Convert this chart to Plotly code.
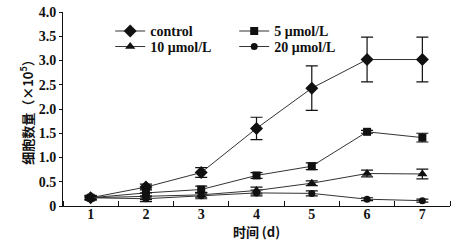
import plotly.graph_objects as go

days = [1, 2, 3, 4, 5, 6, 7]
x_ticklabels = ["1", "2", "3", "4", "5", "6", "7"]

control = [0.17, 0.39, 0.69, 1.60, 2.43, 3.02, 3.02]
control_err = [0.05, 0.06, 0.10, 0.23, 0.46, 0.46, 0.46]

c5 = [0.17, 0.27, 0.34, 0.63, 0.82, 1.53, 1.41]
c5_err = [0.04, 0.08, 0.07, 0.06, 0.07, 0.03, 0.09]

c10 = [0.17, 0.20, 0.23, 0.32, 0.47, 0.67, 0.66]
c10_err = [0.04, 0.07, 0.05, 0.07, 0.05, 0.07, 0.10]

c20 = [0.17, 0.15, 0.21, 0.27, 0.26, 0.14, 0.11]
c20_err = [0.03, 0.06, 0.06, 0.06, 0.05, 0.03, 0.03]

series = [
    ("control", control, control_err, "diamond", 10, "legend"),
    ("5 μmol/L", c5, c5_err, "square", 8, "legend"),
    ("10 μmol/L", c10, c10_err, "triangle-up", 9, "legend2"),
    ("20 μmol/L", c20, c20_err, "circle", 7, "legend2"),
]

fig = go.Figure()
for name, vals, err, sym, sz, lg in series:
    fig.add_trace(go.Scatter(
        x=days, y=vals, name=name, mode="lines+markers", legend=lg,
        line=dict(color="#333333", width=1),
        marker=dict(symbol=sym, size=sz, color="#111111"),
        error_y=dict(type="data", array=err, visible=True, color="#111111",
                     thickness=1.2, width=6),
    ))

serif = "Liberation Serif"
legfont = dict(family=serif, size=14, color="#111111", weight="bold")
legcommon = dict(orientation="h", xanchor="left", yanchor="middle",
                 entrywidth=79, entrywidthmode="pixels", font=legfont,
                 bgcolor="rgba(0,0,0,0)", itemsizing="trace")
fig.update_layout(
    width=469, height=249,
    margin=dict(l=63, r=19, t=12, b=43),
    paper_bgcolor="white", plot_bgcolor="white",
    font=dict(family=serif, size=14, color="#111111"),
    showlegend=True,
    legend=dict(x=0.122, y=0.9, **legcommon),
    legend2=dict(x=0.122, y=0.82, **legcommon),
    xaxis=dict(
        range=[0.5, 7.5], tickmode="array", tickvals=days, ticktext=x_ticklabels,
        ticks="", showline=True, linecolor="#111111", linewidth=1,
        showgrid=False, zeroline=False, automargin=False,
        ticklabelstandoff=-5,
        tickfont=dict(family=serif, size=14, weight="bold"),
        minor=dict(tickmode="linear", tick0=1.5, dtick=1, ticks="inside",
                   ticklen=5, tickcolor="#111111", showgrid=False),
        title=dict(text="时间 (d)", standoff=3,
                   font=dict(family="Noto Sans CJK SC", size=13, weight="bold")),
    ),
    yaxis=dict(
        range=[0, 4.0], tickmode="array",
        tickvals=[0, 0.5, 1.0, 1.5, 2.0, 2.5, 3.0, 3.5, 4.0],
        ticktext=["0", "0.5", "1.0", "1.5", "2.0", "2.5", "3.0", "3.5", "4.0"],
        ticks="outside", ticklen=3, tickcolor="#111111",
        showline=True, linecolor="#111111", linewidth=1,
        showgrid=False, zeroline=False, automargin=False,
        tickfont=dict(family=serif, size=14, weight="bold"),
        title=dict(text="细胞数量（×10<sup>5</sup>）", standoff=2,
                   font=dict(family="Noto Sans CJK SC", size=13, weight="bold")),
    ),
)

fig.write_html("out.html", config={"displayModeBar": False},
               post_script="document.body.style.margin='0';")
